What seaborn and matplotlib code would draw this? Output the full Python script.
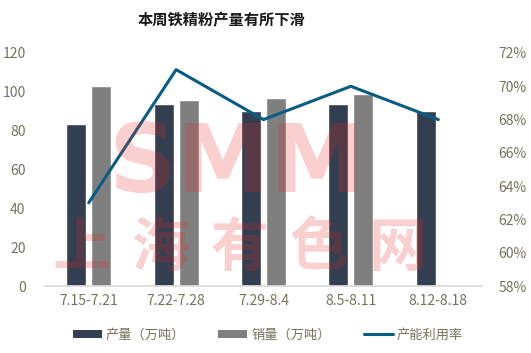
import numpy as np
import pandas as pd
import matplotlib
matplotlib.use("Agg")
import matplotlib.pyplot as plt
from matplotlib.patches import Patch
from matplotlib.lines import Line2D
import seaborn as sns

weeks = ["7.15-7.21", "7.22-7.28", "7.29-8.4", "8.5-8.11", "8.12-8.18"]
output_wt = [83.5, 93.7, 90.2, 93.7, 90.2]
sales_wt = [103.0, 95.8, 96.8, 98.9, np.nan]
utilization = [0.63, 0.71, 0.68, 0.70, 0.68]
series_names = ["产量（万吨）", "销量（万吨）", "产能利用率"]

sns.set_theme(style="white")
plt.rcParams["font.family"] = ["Noto Sans CJK SC", "DejaVu Sans"]

c_out = "#333f50"
c_sales = "#7f7f7f"
c_line = "#0b5c82"
c_tick = "#75735f"

df = pd.DataFrame({
    "week": weeks * 2,
    "series": [series_names[0]] * len(weeks) + [series_names[1]] * len(weeks),
    "value": output_wt + sales_wt,
})

fig = plt.figure(figsize=(5.31, 3.53), dpi=100)
ax = fig.add_axes([45 / 531, 1 - 286 / 353, (482 - 45) / 531, (286 - 53) / 353])

sns.barplot(data=df, x="week", y="value", hue="series", order=weeks,
            hue_order=series_names[:2], palette=[c_out, c_sales],
            width=0.572, gap=0.2, saturation=1, ax=ax, legend=False)
ax.set_xlim(-0.5, len(weeks) - 0.5)
ax.set_ylim(0, 120)
ax.set_yticks(range(0, 121, 20))
ax.set_xlabel("")
ax.set_ylabel("")
for s in ["top", "right", "left"]:
    ax.spines[s].set_visible(False)
ax.spines["bottom"].set_color("#d9d9d9")
ax.tick_params(axis="both", colors=c_tick, labelsize=10, length=0)
ax.tick_params(axis="y", pad=14)
ax.tick_params(axis="x", pad=6)

ax2 = ax.twinx()
sns.lineplot(x=np.arange(len(weeks)), y=utilization, color=c_line, linewidth=2.2, ax=ax2)
ax2.set_ylim(0.58, 0.72)
ax2.set_yticks(np.arange(0.58, 0.7201, 0.02))
ax2.set_yticklabels([f"{int(round(v*100))}%" for v in np.arange(0.58, 0.7201, 0.02)])
for s in ["top", "right", "left", "bottom"]:
    ax2.spines[s].set_visible(False)
ax2.tick_params(axis="y", colors=c_tick, labelsize=10, length=0, pad=12)
ax2.set_xlim(-0.5, len(weeks) - 0.5)

# watermark
fig.text(236 / 531, 1 - 166 / 353, "SMM", fontsize=68, fontweight="bold",
         family="DejaVu Sans", color="#e8262a", alpha=0.22, ha="center", va="center")
for i, ch in enumerate("上海有色网"):
    fig.text((82 + i * 79) / 531, 1 - 249 / 353, ch, fontsize=42, fontweight="black",
             color="#e8262a", alpha=0.22, ha="center", va="center")

fig.text(222 / 531, 1 - 20 / 353, "本周铁精粉产量有所下滑", fontsize=11, fontweight="bold",
         color="#1a1a1a", ha="center", va="center")

handles = [Patch(facecolor=c_out, edgecolor="none"),
           Patch(facecolor=c_sales, edgecolor="none"),
           Line2D([0], [0], color=c_line, linewidth=2.2)]
leg = fig.legend(handles, series_names, loc="center", bbox_to_anchor=(268 / 531, 1 - 335 / 353),
                 ncol=3, frameon=False, fontsize=9.5, handlelength=2.2, handleheight=0.6,
                 columnspacing=2.5, handletextpad=0.3)
for t in leg.get_texts():
    t.set_color(c_tick)

fig.savefig("out.png", dpi=100)
